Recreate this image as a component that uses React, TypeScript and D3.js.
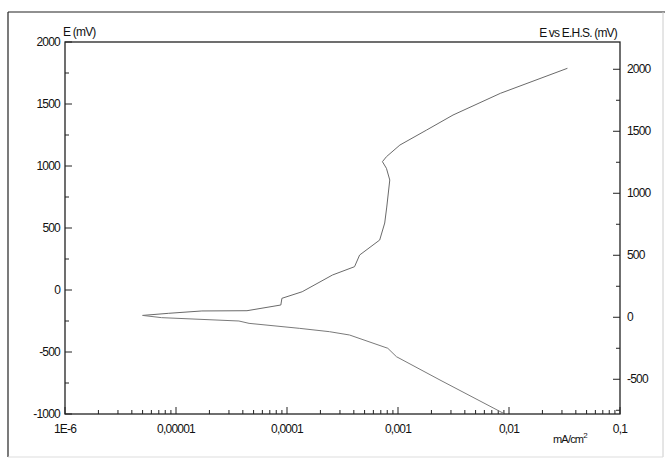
import React from "react";
import * as d3 from "d3";

// anodic branch (current mA/cm2, potential mV)
const anodicI = [5.0e-6, 8.6e-6, 1.71e-5, 4.36e-5, 8.8e-5, 9.0e-5, 1.37e-4, 2.57e-4, 4.06e-4, 4.51e-4, 6.84e-4, 7.59e-4, 7.92e-4, 8.43e-4, 7.87e-4, 7.24e-4, 7.87e-4, 1.04e-3, 1.81e-3, 3.13e-3, 8.36e-3, 3.36e-2];
const anodicE = [-205, -188, -169, -167, -121, -67, -14, 121, 188, 282, 403, 540, 669, 887, 981, 1035, 1075, 1169, 1290, 1411, 1586, 1788];

// cathodic branch
const cathodicI = [5.0e-6, 7.41e-6, 3.69e-5, 4.55e-5, 1.29e-4, 2.41e-4, 3.66e-4, 8.09e-4, 9.69e-4, 2.39e-3, 8.9e-3];
const cathodicE = [-205, -223, -250, -269, -309, -336, -363, -470, -538, -726, -994];

const xTicks = [1e-6, 1e-5, 1e-4, 1e-3, 1e-2, 1e-1];
const xTickLabels = ["1E-6", "0,00001", "0,0001", "0,001", "0,01", "0,1"];
const leftTicks = [-1000, -500, 0, 500, 1000, 1500, 2000];
const rightTicks = [-500, 0, 500, 1000, 1500, 2000];

const EHS_OFFSET = 220;

export default function App() {
  const left = 65, right = 620, top = 42, bottom = 414;

  const x = d3.scaleLog().domain([1e-6, 0.1]).range([left, right]);
  const y = d3.scaleLinear().domain([-1000, 2000]).range([bottom, top]);
  const y2 = d3.scaleLinear().domain([-1000 + EHS_OFFSET, 2000 + EHS_OFFSET]).range([bottom, top]);

  const line = d3.line<[number, number]>()
    .x(d => x(d[0]))
    .y(d => y(d[1]))
    .curve(d3.curveMonotoneY === undefined ? d3.curveLinear : d3.curveLinear);

  const anodic = anodicI.map((v, i) => [v, anodicE[i]] as [number, number]);
  const cathodic = cathodicI.map((v, i) => [v, cathodicE[i]] as [number, number]);

  // minor ticks for log axis
  const minorX: number[] = [];
  for (let dec = -6; dec < -1; dec++) {
    for (let k = 2; k <= 9; k++) minorX.push(k * Math.pow(10, dec));
  }
  const leftMinor = d3.range(-750, 2000, 500);
  const rightMinor = d3.range(-750, 2220, 500).filter(v => y2(v) >= top);

  const font = { fontFamily: "'Liberation Sans', Arial, sans-serif", fontSize: 12, letterSpacing: -0.8, fill: "#111" };

  return (
    <svg width={666} height={460} style={{ position: "absolute", left: 0, top: 0 }}>
      <rect width={666} height={460} fill="#fff" />
      {/* outer frame */}
      <line x1={8} y1={12} x2={665} y2={12} stroke="#222" strokeWidth={1.2} />
      <line x1={8} y1={12} x2={8} y2={457} stroke="#222" strokeWidth={1.2} />
      <line x1={663} y1={12} x2={663} y2={457} stroke="#ccc" strokeWidth={1} />
      <line x1={8} y1={457} x2={663} y2={457} stroke="#ddd" strokeWidth={1} />

      {/* plot frame */}
      <rect x={left} y={top} width={right - left} height={bottom - top} fill="none" stroke="#222" strokeWidth={1.3} />

      {/* x ticks */}
      {xTicks.map((t, i) => (
        <g key={"xt" + i}>
          <line x1={x(t)} x2={x(t)} y1={bottom} y2={bottom - 7} stroke="#222" />
          <text x={x(t)} y={433} textAnchor="middle" {...font}>{xTickLabels[i]}</text>
        </g>
      ))}
      {minorX.map((t, i) => (
        <line key={"xm" + i} x1={x(t)} x2={x(t)} y1={bottom} y2={bottom - 4} stroke="#222" />
      ))}

      {/* left axis */}
      {leftTicks.map(t => (
        <g key={"yl" + t}>
          <line x1={left} x2={left + 7} y1={y(t)} y2={y(t)} stroke="#222" />
          <text x={60} y={y(t) + 4} textAnchor="end" {...font}>{t}</text>
        </g>
      ))}
      {leftMinor.map(t => (
        <line key={"ylm" + t} x1={left} x2={left + 4} y1={y(t)} y2={y(t)} stroke="#222" />
      ))}

      {/* right axis */}
      {rightTicks.map(t => (
        <g key={"yr" + t}>
          <line x1={right} x2={right - 7} y1={y2(t)} y2={y2(t)} stroke="#222" />
          <text x={627} y={y2(t) + 4} textAnchor="start" {...font}>{t}</text>
        </g>
      ))}
      {rightMinor.map(t => (
        <line key={"yrm" + t} x1={right} x2={right - 4} y1={y2(t)} y2={y2(t)} stroke="#222" />
      ))}

      {/* axis titles */}
      <text x={63} y={36} {...font}>E (mV)</text>
      <text x={617} y={37} textAnchor="end" {...font}>E vs E.H.S. (mV)</text>
      <text x={553} y={443} {...font} fontSize={11}>mA/cm<tspan dy={-5} fontSize={8}>2</tspan></text>

      {/* curves */}
      <path d={line(anodic) || ""} fill="none" stroke="#6a6a6a" strokeWidth={1} />
      <path d={line(cathodic) || ""} fill="none" stroke="#7a7a7a" strokeWidth={1} />
    </svg>
  );
}
